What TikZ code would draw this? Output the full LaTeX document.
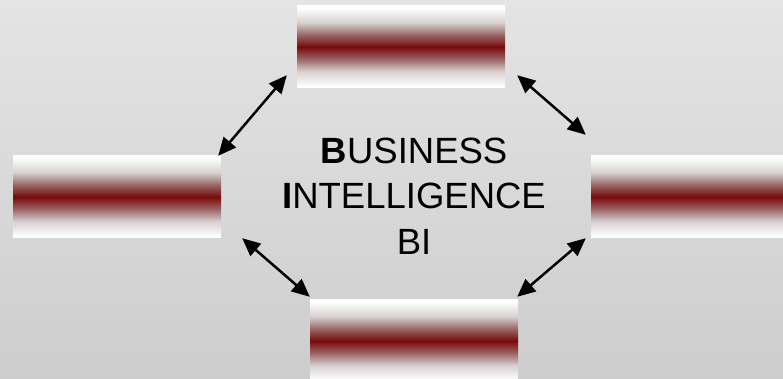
\documentclass[tikz,border=0pt]{standalone}
\usepackage{fontspec}
\setmainfont{Liberation Sans}
\usetikzlibrary{arrows.meta,calc,positioning}
\definecolor{barred}{RGB}{122,10,10}
\definecolor{bgtop}{RGB}{228,228,228}
\definecolor{bgbottom}{RGB}{205,205,205}
% the path box is mapped onto 25bp..75bp of the shading
\pgfdeclareverticalshading{redbar}{100bp}{color(0bp)=(white); color(26bp)=(white); color(35bp)=(barred!22!gray!30!white); color(43bp)=(barred!60!gray!80!white); color(50bp)=(barred); color(57bp)=(barred!60!gray!80!white); color(65bp)=(barred!22!gray!30!white); color(74bp)=(white); color(100bp)=(white)}

\begin{document}
\begin{tikzpicture}[x=1pt, y=1pt,
    barbox/.style={shading=redbar, minimum width=208pt, minimum height=82pt, inner sep=0pt},
    dbl/.style={{Triangle[length=18pt,width=16pt]}-{Triangle[length=18pt,width=16pt]}, line width=2.5pt, black}]
            % Background
            \useasboundingbox (0,0) rectangle (783,379);
            \shade[top color=bgtop, bottom color=bgbottom] (0,0) rectangle (783,379);
            \clip (0,0) rectangle (783,379);

            % Shaded bars round the title
            \node[barbox] (top) at (401,332) {};
            \node[barbox] (left) at (117,182) {};
            \node[barbox] (right) at (695,182) {};
            \node[barbox] (bottom) at (414,38) {};

            % Title
            \node[align=center, font=\fontsize{36.5}{45.5}\selectfont, inner sep=0pt] (title) at (414,183)
                {\textbf{B}USINESS\\\textbf{I}NTELLIGENCE\\BI};

            % Arrows between the bars
            \draw[dbl] ([shift={(-10,13)}]top.south west) -- ([shift={(-3,0)}]left.north east);
            \draw[dbl] ([shift={(12,13)}]top.south east) -- ([shift={(-5,21)}]right.north west);
            \draw[dbl] ([shift={(21,0)}]left.south east) -- ([shift={(0,3)}]bottom.north west);
            \draw[dbl] ([shift={(-5,0)}]right.south west) -- ([shift={(-1,3)}]bottom.north east);
\end{tikzpicture}
\end{document}
